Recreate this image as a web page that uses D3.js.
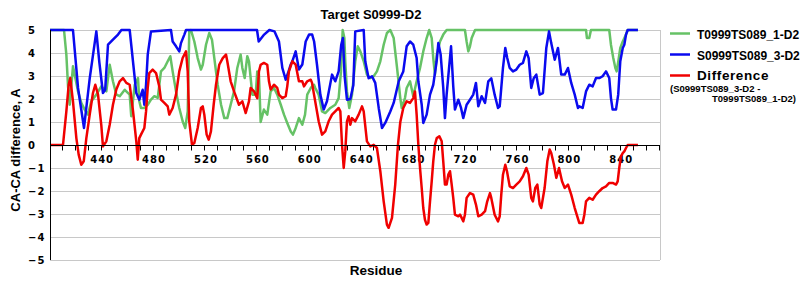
<!DOCTYPE html>
<html>
<head>
<meta charset="utf-8">
<script src="https://cdn.jsdelivr.net/npm/d3@7"></script>
<style>
  body { margin: 0; background: #fff; }
  svg { display: block; }
  .tick-label { font-family: "DejaVu Sans", sans-serif; font-weight: bold; font-size: 10px; letter-spacing: 1px; }
  .title { font-family: "Liberation Sans", Arial, sans-serif; font-weight: bold; }
</style>
</head>
<body>
<svg id="chart" width="800" height="300"></svg>
<script>
// residue, CA-CA distance (A)
const t0999 = [[401,5],[411.8,5],[413.6,3.93],[414.9,2.55],[416.2,1.75],[418.7,3.42],[420,3.06],[422.6,2.33],[425.1,1.83],[427.7,1.54],[430.3,1.32],[432.8,1.9],[436.7,2.19],[440.5,2.55],[444.4,2.33],[447,3.49],[449.5,2.77],[452.1,2.19],[454.7,2.12],[458.6,2.4],[462.4,2.19],[463.6,1.25],[466.3,2.62],[468.8,2.91],[469.8,1.9],[471.1,1.61],[473.7,1.61],[476.3,1.75],[478.8,1.97],[481.4,2.12],[484,2.05],[486.5,3.2],[489.1,3.35],[491.7,3.64],[493.7,3.86],[495.5,3.2],[498.1,2.33],[500.6,1.61],[503.2,1.03],[505.2,0.74],[507.1,1.46],[508.3,4.94],[509.6,5],[512.2,4.5],[514.8,3.78],[517.3,3.28],[518.7,3.49],[521.2,4.36],[523.7,4.87],[525.8,4.58],[527.6,3.78],[530.2,2.62],[532.8,1.75],[535.3,1.17],[537.6,1.17],[540.2,1.75],[542.8,2.33],[545.3,3.35],[546.6,3.64],[547.9,3.93],[549.2,3.35],[551,2.91],[553,3.86],[554.3,3.64],[556.9,2.19],[559.5,2.19],[560.7,3.2],[562,3.06],[563.3,1.0],[565.8,1.54],[568.4,1.32],[571,2.33],[573.6,2.48],[576.1,2.19],[578.8,1.75],[581.3,1.32],[583.8,0.96],[586.5,0.59],[588.2,0.45],[590.3,0.74],[592.8,1.17],[595.4,0.88],[597.5,1.32],[599.2,2.19],[601.9,2.48],[604.4,2.62],[605.4,2.48],[608,2.19],[610.6,1.46],[613.1,1.39],[617,1.61],[620.8,1.75],[623.4,2.04],[625.2,3.2],[626.5,5],[627.8,4.65],[628.5,3.64],[629.8,2.33],[631.6,1.61],[633.7,2.19],[636.2,3.64],[638.1,4.29],[640.1,4.07],[642.7,3.64],[645.2,3.06],[647.8,2.91],[650.4,2.99],[652.9,3.2],[655.5,3.64],[658.1,4.36],[660.6,4.87],[663.2,5],[665.8,4.65],[668.4,3.35],[670.9,2.04],[672,1.61],[674.5,2.04],[675.8,2.48],[678.4,2.77],[680.9,2.12],[683.5,2.77],[686.1,3.35],[688.6,4.07],[691.2,4.65],[693.2,5],[695.1,4.65],[696.3,3.78],[697.6,3.06],[699,3.93],[701.5,4.5],[704,4.8],[706.6,5],[720.7,5],[722,4.5],[723.3,4.07],[724.6,4.29],[725.9,4.65],[728.5,5],[814,5],[814.7,4.65],[816.5,4.65],[817.8,5],[831.9,5],[833.2,4.36],[835,3.78],[836.6,3.35],[837.6,3.2],[838.9,3.64],[840.4,4.22],[842.3,4.5],[844.8,4.8],[846.1,5],[854,5]];

const s0999 = [[401,5],[418.7,5],[422.6,2.48],[427.2,0.74],[431.6,2.9],[436.7,4.94],[439,3.6],[441.8,2.26],[443.5,2.4],[445.7,4.36],[449.5,4.58],[453.4,4.8],[456,5],[462.4,5],[467.5,2.26],[469.8,1.97],[472.4,2.4],[473.7,1.75],[475,2.62],[476.3,3.93],[478.8,4.94],[494.2,5],[495.5,4.5],[498.1,4.29],[500.6,4.07],[501.9,4.43],[504.5,4.8],[505.8,5],[560.5,5],[561.8,4.5],[566,4.8],[570,5],[574,4.94],[577.4,4.5],[580,3.35],[582.6,2.84],[584.4,3.13],[586.5,3.5],[587.7,3.64],[590.3,4.07],[592.8,3.28],[595.4,3.5],[598,4.5],[600.6,4.8],[603,4.8],[604.5,4.5],[606.7,3.5],[609.3,2.19],[611.9,1.54],[614.4,1.9],[618.3,3.06],[620.8,2.77],[623.4,3.2],[625.4,4.36],[626.7,4.65],[628,3.0],[629.8,1.97],[632.4,2.0],[634.7,2.6],[636.2,4.94],[642.7,5],[643.9,3.64],[646.5,2.9],[649.1,2.99],[651.6,2.7],[654.3,1.6],[656.8,0.74],[659.3,0.96],[663.2,1.46],[665.8,1.83],[669.7,2.77],[673.2,3.2],[675.8,4.29],[678.4,4.5],[680.9,4.36],[683.5,3.78],[684.8,2.77],[687.4,1.75],[688.6,0.96],[691.2,1.32],[693.8,2.19],[696.3,2.62],[698.9,3.64],[700.2,4.43],[702,3.93],[704,2.48],[705.3,1.17],[706.6,2.19],[708.7,3.49],[710,4.29],[711.7,2.55],[713,1.54],[715.6,1.97],[717.7,1.61],[719.4,1.17],[722,1.75],[724.6,1.97],[727.1,2.19],[729.2,2.7],[731,1.68],[733.6,2.12],[736.2,1.83],[738.7,2.77],[741,2.9],[743.6,2.19],[746.2,1.61],[747.5,1.68],[750,3.35],[751.8,4.22],[753.3,3.78],[755.2,3.35],[757.7,3.2],[760.3,3.28],[762.9,3.49],[765.4,3.57],[768,4.07],[769.8,3.78],[771.8,2.48],[773.7,2.9],[775.7,3.06],[778.3,2.19],[780.8,2.26],[783.4,4.22],[785.5,4.94],[787.2,4.43],[789.9,3.71],[792.4,4.22],[794.9,3.06],[797.6,3.06],[800.1,3.35],[802.6,2.7],[805.3,2.19],[807.8,1.61],[808.8,1.68],[811.4,1.61],[814,2.33],[816.5,2.62],[819.1,2.55],[821.7,2.91],[824.2,2.91],[826.8,2.99],[829.4,3.2],[831.9,2.91],[833.2,2.04],[834.5,1.54],[837.1,1.54],[838.8,2.19],[840.4,3.64],[842.3,4.22],[843.5,4.36],[844.8,4.8],[846.1,5],[854,5]];

const diff = [[401,0],[411,0],[413.6,1.46],[415.4,2.62],[416.6,2.91],[418.7,1.9],[421.3,0.3],[423.1,-0.42],[425.1,-0.86],[427,-0.71],[429,0.3],[431.6,1.32],[434.1,2.26],[435.9,2.62],[438,2.19],[440.5,0.88],[441.8,-0.06],[444.4,0.16],[447,0.88],[449.5,1.75],[452.1,2.41],[454.7,2.77],[457.2,2.91],[459.8,2.7],[462.4,2.62],[465,1.46],[467.5,0.16],[468.6,-0.64],[469.8,0.3],[471.1,0.45],[473.7,0.74],[475,1.46],[476.3,2.48],[477.5,3.13],[480.1,3.28],[482.7,3.13],[485.2,2.55],[486.5,1.97],[489.1,1.83],[491.7,1.68],[492.9,1.32],[495.5,1.61],[498.1,2.19],[500.6,3.2],[503.2,3.78],[505.8,4.07],[507.1,3.2],[508.3,1.03],[510.4,0.01],[512.2,0.09],[514.8,0.74],[517.3,1.61],[518.7,1.68],[519.9,1.32],[521.7,0.45],[523.3,0.23],[525,0.59],[527.1,1.75],[528.9,2.62],[531.4,3.49],[534.1,3.78],[536.6,3.93],[537.6,3.64],[540.2,2.77],[542.8,2.33],[546.6,1.75],[549.2,1.9],[551.8,1.39],[554.3,1.9],[555.6,2.48],[558.2,2.33],[560.7,2.04],[562,3.2],[563.3,3.49],[565.8,3.57],[568.4,3.49],[569.7,2.77],[571,2.41],[573.6,2.62],[576.1,2.48],[577.4,2.19],[580,2.04],[582.6,2.12],[583.8,2.55],[585.1,3.2],[587.7,3.64],[590.3,3.49],[592.8,2.77],[595.4,2.77],[596.7,2.55],[599.2,2.77],[601.9,2.84],[602.9,2.7],[604.4,2.2],[608,1.03],[610.6,0.45],[613.1,0.59],[615.7,1.03],[618.3,1.32],[620.8,1.46],[623.4,1.61],[624.7,1.46],[626,0.01],[627.3,-1.0],[628.5,-0.28],[629.8,1.03],[631.1,1.25],[632.4,0.88],[633.7,1.17],[636.2,1.03],[638.8,1.32],[641.4,1.68],[642.7,1.46],[645.2,0.16],[647.8,-0.06],[650.4,0.01],[652.9,-0.13],[655.5,-1.14],[658.1,-2.45],[660.6,-3.46],[661.9,-3.6],[664.5,-3.17],[667,-1.72],[669.1,0.01],[670.9,1.0],[673.2,1.61],[675.8,1.9],[678.4,1.83],[680.9,2.04],[682.2,2.33],[683.5,1.32],[684.8,0.01],[686.1,-1.0],[687.4,-1.87],[688.6,-2.74],[689.9,-3.25],[691.2,-3.46],[692.5,-3.39],[693.8,-2.45],[695.1,-1.58],[696.3,-0.71],[697.6,0.01],[699,0.3],[701,0.38],[702.8,0.16],[704,-0.71],[705.3,-1.72],[706.6,-1.72],[707.9,-1.29],[709.2,-1.14],[710.5,-1.72],[711.7,-2.3],[713,-3.03],[715.6,-3.1],[716.9,-3.03],[718.2,-3.17],[719.4,-3.32],[720.7,-3.03],[722,-2.3],[724.6,-2.09],[727.1,-2.16],[729.2,-2.59],[731,-3.1],[733.6,-3.03],[736.2,-2.88],[737.9,-2.45],[740,-2.09],[741,-2.3],[743.6,-3.03],[746.2,-3.32],[747.5,-3.1],[748.7,-2.16],[750,-1.29],[751.8,-0.86],[753.1,-1.14],[755.2,-1.8],[757.7,-1.87],[760.3,-1.72],[762.9,-1.58],[765.4,-1.36],[768,-1.0],[769.8,-1.29],[771.8,-2.3],[773.1,-2.45],[774.9,-1.87],[776.5,-1.72],[778.3,-2.59],[779.5,-2.74],[782.1,-1.87],[784.2,-0.71],[786,-0.2],[787.2,-0.35],[789.3,-0.86],[791.1,-1.43],[793.2,-1.0],[795.5,-1.58],[797.6,-1.87],[800.1,-1.72],[802.6,-2.16],[805.3,-2.74],[807.6,-3.17],[808.8,-3.39],[811.4,-3.39],[812.7,-3.03],[814,-2.45],[816.5,-2.3],[819.1,-2.38],[821.7,-2.16],[824.2,-2.01],[826.8,-1.87],[829.4,-1.8],[831.9,-1.65],[834.5,-1.65],[837.1,-1.72],[838.4,-1.58],[839.6,-1.0],[840.9,-0.49],[842.3,-0.35],[843.5,-0.28],[844.8,-0.13],[846.1,0],[854,0]];

const xLabels = [440, 480, 520, 560, 600, 640, 680, 720, 760, 800, 840];
const xMinor = d3.range(410, 871, 10);
const yTicks = [5, 4, 3, 2, 1, 0, -1, -2, -3, -4, -5];

const legendNames = ["T0999TS089_1-D2", "S0999TS089_3-D2", "Difference"];
const colors = ["#66c266", "#0a0aef", "#f00000"];

const svg = d3.select("#chart");
const plotLeft = 50, plotRight = 660, plotTop = 30, plotBottom = 260;

const x = d3.scaleLinear().domain([401, 871]).range([plotLeft, plotRight]);
const y = d3.scaleLinear().domain([-5, 5]).range([plotBottom, plotTop]);

// grid
svg.append("g")
  .selectAll("line")
  .data(yTicks.filter((d) => d !== 0))
  .enter()
  .append("line")
  .attr("x1", plotLeft)
  .attr("x2", plotRight)
  .attr("y1", (d) => Math.round(y(d)) + 0.5)
  .attr("y2", (d) => Math.round(y(d)) + 0.5)
  .attr("stroke", "#c8c8c8");

svg.append("line")
  .attr("x1", plotRight + 0.5).attr("x2", plotRight + 0.5)
  .attr("y1", plotTop).attr("y2", plotBottom)
  .attr("stroke", "#c8c8c8");

// y axis labels
svg.append("g")
  .selectAll("text")
  .data(yTicks)
  .enter()
  .append("text")
  .attr("class", "tick-label")
  .attr("x", 28)
  .attr("y", (d) => y(d) + 4)
  .text((d) => (d < 0 ? "\u2212" + Math.abs(d) : d));

// zero axis with minor ticks
const zeroY = Math.round(y(0)) + 0.5;
svg.append("g")
  .selectAll("line")
  .data(xMinor)
  .enter()
  .append("line")
  .attr("x1", (d) => Math.round(x(d)) + 0.5)
  .attr("x2", (d) => Math.round(x(d)) + 0.5)
  .attr("y1", zeroY)
  .attr("y2", zeroY + 5)
  .attr("stroke", "#000");

svg.append("g")
  .selectAll("text")
  .data(xLabels)
  .enter()
  .append("text")
  .attr("class", "tick-label")
  .attr("text-anchor", "middle")
  .attr("x", (d) => x(d) + 1.5)
  .attr("y", 163)
  .text((d) => d);

// series
const line = d3.line().x((d) => x(d[0])).y((d) => y(d[1]));
[t0999, s0999, diff].forEach((s, i) => {
  svg.append("path")
    .datum(s)
    .attr("fill", "none")
    .attr("stroke", colors[i])
    .attr("stroke-width", 2.5)
    .attr("stroke-linejoin", "round")
    .attr("d", line);
});

svg.append("line")
  .attr("x1", plotLeft).attr("x2", plotRight)
  .attr("y1", zeroY).attr("y2", zeroY)
  .attr("stroke", "#000");
svg.append("line")
  .attr("x1", plotLeft + 0.5).attr("x2", plotLeft + 0.5)
  .attr("y1", plotTop).attr("y2", plotBottom)
  .attr("stroke", "#000");

// titles
svg.append("text").attr("class", "title")
  .attr("x", 371).attr("y", 19)
  .attr("text-anchor", "middle").attr("font-size", 13)
  .text("Target S0999-D2");

svg.append("text").attr("class", "title")
  .attr("x", 376).attr("y", 275)
  .attr("text-anchor", "middle").attr("font-size", 13.5)
  .text("Residue");

svg.append("text").attr("class", "title")
  .attr("transform", "translate(20,150) rotate(-90)")
  .attr("text-anchor", "middle").attr("font-size", 13)
  .text("CA-CA difference, A");

// legend
const legendY = [33.5, 54.5, 75.5];
legendNames.forEach((name, i) => {
  svg.append("line")
    .attr("x1", 670).attr("x2", 690)
    .attr("y1", legendY[i]).attr("y2", legendY[i])
    .attr("stroke", colors[i]).attr("stroke-width", 2.5);
  svg.append("text").attr("class", "title")
    .attr("x", 697).attr("y", legendY[i] + (i === 2 ? 4 : 5))
    .attr("font-size", i === 2 ? 13.5 : 12)
    .attr("letter-spacing", i === 2 ? 0.6 : 0)
    .text(name);
});
svg.append("text").attr("class", "title")
  .attr("x", 670).attr("y", 91.5).attr("font-size", 9.5)
  .text("(S0999TS089_3-D2 -");
svg.append("text").attr("class", "title")
  .attr("x", 712).attr("y", 101.5).attr("font-size", 9.5)
  .text("T0999TS089_1-D2)");
</script>
</body>
</html>
